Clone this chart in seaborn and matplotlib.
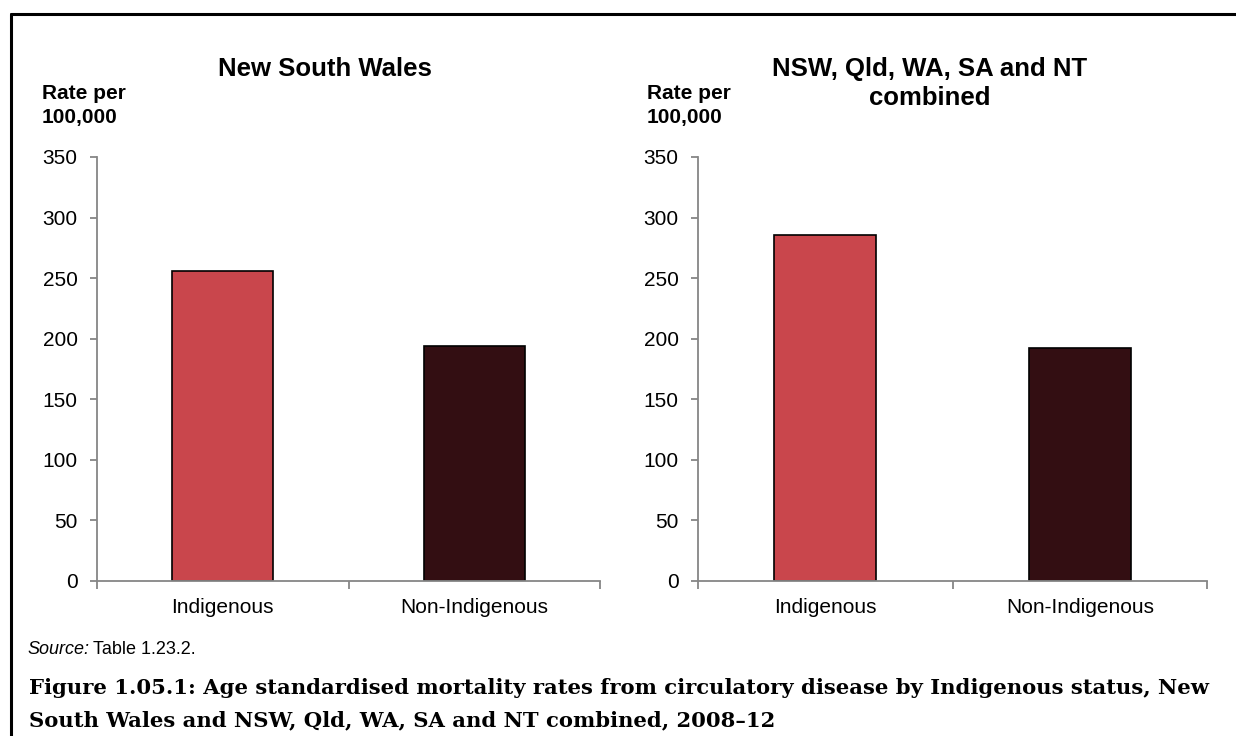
import matplotlib
matplotlib.use('Agg')
import matplotlib.pyplot as plt
import seaborn as sns
import pandas as pd
from matplotlib.lines import Line2D

# Data
status = ['Indigenous', 'Non-Indigenous']
nsw_rates = [256, 194]
combined_rates = [286, 192]
panel_titles = ['New South Wales', 'NSW, Qld, WA, SA and NT\ncombined']
bar_colours = ['#C9464C', '#330E12']
y_ticks = [0, 50, 100, 150, 200, 250, 300, 350]

sns.set_theme(style='white')
plt.rcParams['font.family'] = ['Liberation Sans', 'DejaVu Sans']
plt.rcParams['text.color'] = 'black'
plt.rcParams['xtick.color'] = 'black'
plt.rcParams['ytick.color'] = 'black'

W, H = 1236, 736
fig = plt.figure(figsize=(W / 100, H / 100), dpi=100)
axis_grey = '#868686'


def px(x0, y_top, x1, y_bottom):
    # pixel box -> figure fraction rectangle
    return [x0 / W, 1 - y_bottom / H, (x1 - x0) / W, (y_bottom - y_top) / H]


ax_left = fig.add_axes(px(97, 157, 600, 581))
ax_right = fig.add_axes(px(698, 157, 1207, 581))

panels = [
    (ax_left, nsw_rates, panel_titles[0], 325, 57, 42),
    (ax_right, combined_rates, panel_titles[1], 930, 57, 647),
]

for ax, rates, title, title_x, title_top, label_x in panels:
    df = pd.DataFrame({'status': status, 'rate': rates})
    sns.barplot(data=df, x='status', y='rate', hue='status', palette=bar_colours,
                saturation=1, width=0.4, edgecolor='black', linewidth=1.2,
                legend=False, ax=ax)
    ax.set_xlim(-0.5, 1.5)
    ax.set_ylim(0, 350)
    ax.set_yticks(y_ticks)
    ax.set_xlabel('')
    ax.set_ylabel('')
    for side in ['top', 'right']:
        ax.spines[side].set_visible(False)
    for side in ['left', 'bottom']:
        ax.spines[side].set_color(axis_grey)
        ax.spines[side].set_linewidth(1.3)
    ax.tick_params(axis='y', which='major', direction='out', length=5, width=1.3,
                   color=axis_grey, labelsize=15, pad=9, left=True)
    ax.tick_params(axis='x', which='major', length=0, labelsize=15, pad=12)
    ax.set_xticks([-0.5, 0.5, 1.5], minor=True)
    ax.tick_params(axis='x', which='minor', direction='out', length=6, width=1.3,
                   color=axis_grey, bottom=True)

    fig.text(title_x / W, 1 - title_top / H, title, ha='center', va='top',
             fontsize=18.5, fontweight='bold', linespacing=1.26)
    fig.text(label_x / W, 1 - 84 / H, 'Rate per\n100,000', ha='left', va='top',
             fontsize=15, fontweight='bold', linespacing=1.32)

# outer frame
fig.add_artist(Line2D([11 / W, 1.0], [1 - 14 / H, 1 - 14 / H],
                      transform=fig.transFigure, color='black', linewidth=2.2))
fig.add_artist(Line2D([11 / W, 11 / W], [0.0, 1 - 14 / H],
                      transform=fig.transFigure, color='black', linewidth=2.2))

# source note
src = fig.text(27 / W, 1 - 650 / H, 'Source:', style='italic', fontsize=13,
               va='center', ha='left')
fig.canvas.draw()
src_end = src.get_window_extent().x1
fig.text((src_end + 4) / W, 1 - 650 / H, 'Table 1.23.2.', fontsize=13,
         va='center', ha='left')

# figure caption
fig.text(29 / W, 1 - 678 / H,
         'Figure 1.05.1: Age standardised mortality rates from circulatory disease by Indigenous status, New\n'
         'South Wales and NSW, Qld, WA, SA and NT combined, 2008\u201312',
         family=['DejaVu Serif'], fontweight='bold', fontsize=15.2, ha='left', va='top',
         linespacing=1.75)

fig.savefig('out.png', dpi=100)
